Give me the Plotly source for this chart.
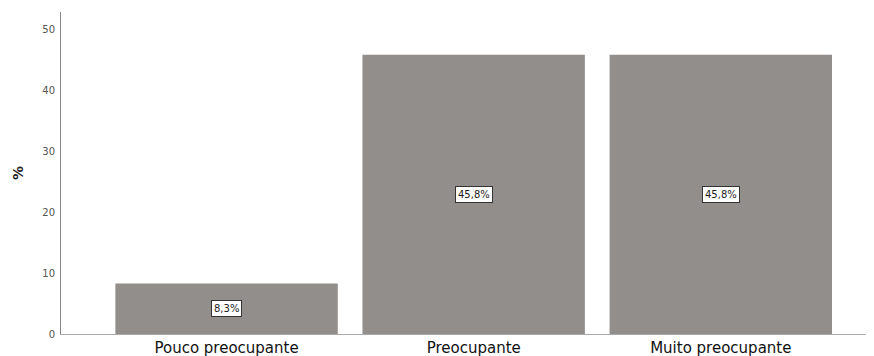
import plotly.graph_objects as go

categories = ["Pouco preocupante", "Preocupante", "Muito preocupante"]
percent = [8.3, 45.8, 45.8]
labels = ["8,3%", "45,8%", "45,8%"]
y_ticks = [0, 10, 20, 30, 40, 50]

x_pos = list(range(len(categories)))

fig = go.Figure()
fig.add_trace(go.Bar(
    x=x_pos,
    y=percent,
    width=0.9,
    marker=dict(color="#928e8c", line=dict(width=0)),
    hoverinfo="skip",
))

# value boxes in the middle of each bar
for xi, v, t in zip(x_pos, percent, labels):
    fig.add_annotation(
        x=xi, y=v / 2, text=t, showarrow=False,
        font=dict(family="DejaVu Sans", size=10, color="#222222"),
        bgcolor="white", bordercolor="#333333", borderwidth=1, borderpad=2,
    )

# page body has an 8px margin, so the figure is sized/offset to compensate
fig.update_layout(
    width=866, height=348,
    margin=dict(l=53, r=0, t=4, b=22),
    plot_bgcolor="white", paper_bgcolor="white",
    showlegend=False,
    font=dict(family="DejaVu Sans"),
)
fig.update_xaxes(
    range=[-0.67, 2.62],
    tickvals=x_pos, ticktext=categories,
    tickfont=dict(size=15, color="#111111"),
    showline=True, linecolor="#aaaaaa", linewidth=1,
    showgrid=False, zeroline=False, ticks="", automargin=False,
)
fig.update_yaxes(
    range=[0, 52.8],
    tickvals=y_ticks,
    tickfont=dict(size=10, color="#555555"),
    showline=True, linecolor="#888888", linewidth=1,
    showgrid=False, zeroline=False, ticks="", ticklabelstandoff=3,
    automargin=False,
    title=dict(text="<b>%</b>", font=dict(size=14, color="#222222"), standoff=15),
)

fig.write_html("out.html")
